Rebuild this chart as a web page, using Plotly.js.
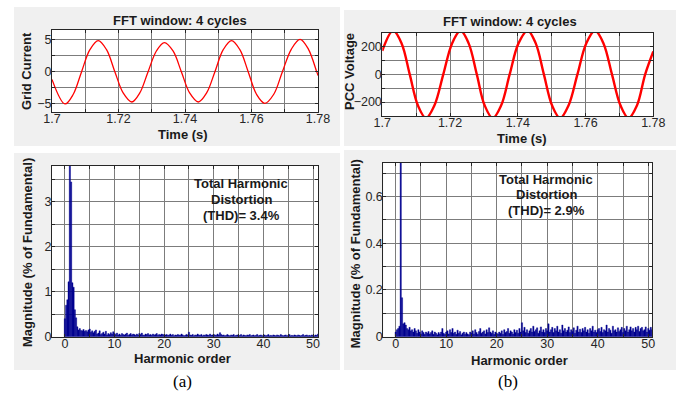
<!DOCTYPE html>
<html>
<head>
<meta charset="utf-8">
<script src="https://cdn.plot.ly/plotly-3.0.1.min.js"></script>
<style>html,body{margin:0;padding:0;background:#fff;}#chart{width:687px;height:397px;}</style>
</head>
<body>
<div id="chart"></div>
<script>
// ---- Data ----
// (a) grid current, time (s) and value at extrema / zero crossings / mid-points
const currentTime = [1.7000,1.7039,1.7064,1.7089,1.7114,1.7139,1.7164,1.7189,1.7214,1.7240,1.7264,1.7289,1.7314,1.7338,1.7364,1.7389,1.7414,1.7440,1.7465,1.7490,1.7515,1.7540,1.7565,1.7590,1.7615,1.7640,1.7667,1.7693,1.7720,1.7746,1.7771,1.7796,1.7800];
const currentValue = [-1.2,-5.0,-3.5,0,3.4,4.8,3.4,0,-3.3,-4.7,-3.3,0,3.2,4.5,3.2,0,-3.3,-4.7,-3.3,0,3.4,4.8,3.4,0,-3.5,-4.9,-3.5,0,3.5,5.0,3.5,0,-0.6];

// (b) PCC voltage
const voltageTime = [1.7000,1.7032,1.7057,1.7081,1.7105,1.7129,1.7154,1.7180,1.7206,1.7231,1.7255,1.7279,1.7302,1.7326,1.7351,1.7376,1.7402,1.7429,1.7453,1.7477,1.7501,1.7525,1.7550,1.7576,1.7602,1.7628,1.7653,1.7678,1.7703,1.7727,1.7752,1.7776,1.7800];
const voltageValue = [170,315,223,0,-223,-315,-223,0,223,315,223,0,-223,-315,-223,0,223,315,223,0,-223,-315,-223,0,223,315,223,0,-223,-315,-223,0,165];

// Harmonic spectra, orders 0 .. 51 in steps of 0.25 (% of fundamental)
const harmonicStart = 0;
const harmonicStep = 0.25;
const spectrumA = [
 0.40,0.70,0.82,1.22,100,3.44,1.20,1.10,0.60,0.42,0.22,0.15,0.18,
 0.14,0.13,0.16,0.12,0.14,0.11,0.15,0.17,0.10,0.13,0.09,0.12,0.15,0.06,0.08,0.13,0.05,0.07,0.10,0.06,0.12,0.04,0.07,0.05,0.09,0.06,0.11,0.07,
 0.05,0.08,0.04,0.06,0.03,0.07,0.05,0.04,0.06,0.08,0.03,0.05,0.07,0.04,0.06,0.05,0.03,0.06,0.04,0.07,0.05,0.08,0.04,0.03,0.06,0.05,0.07,0.04,0.05,0.03,0.06,0.04,0.05,0.07,0.03,0.05,0.04,0.06,0.05,0.04,
 0.04,0.05,0.03,0.04,0.06,0.03,0.05,0.02,0.04,0.03,0.05,0.04,0.03,0.06,0.04,0.02,0.03,0.05,0.04,0.10,0.04,0.03,0.05,0.02,0.04,0.03,0.06,0.04,0.03,0.05,0.02,0.04,0.03,0.05,0.04,0.03,0.06,0.03,0.04,0.05,
 0.04,0.03,0.06,0.04,0.09,0.05,0.03,0.04,0.02,0.03,0.05,0.03,0.02,0.04,0.03,0.05,0.02,0.03,0.04,0.02,0.03,0.05,0.02,0.04,0.03,0.02,0.04,0.03,0.05,0.02,0.03,0.04,0.02,0.03,0.05,0.02,0.03,0.04,0.02,0.03,
 0.04,0.02,0.03,0.05,0.02,0.03,0.02,0.04,0.03,0.02,0.04,0.03,0.02,0.05,0.03,0.02,0.03,0.04,0.02,0.03,0.05,0.02,0.03,0.02,0.04,0.03,0.02,0.04,0.03,0.02,0.03,0.05,0.02,0.03,0.04,0.02,0.03,0.02,0.04,0.03,0.02,0.04,0.03,0.06
];
const spectrumB = [
 0.02,0.03,0.035,0.045,100,0.167,0.055,0.06,0.05,0.035,0.03,0.04,0.025,
 0.03,0.02,0.035,0.025,0.015,0.03,0.02,0.012,0.025,0.018,0.01,0.02,0.015,0.022,0.012,0.018,0.025,0.01,0.02,0.015,0.008,0.018,0.012,0.02,0.035,0.015,0.01,0.02,
 0.025,0.012,0.03,0.018,0.035,0.015,0.02,0.01,0.028,0.015,0.022,0.008,0.015,0.02,0.01,0.018,0.012,0.008,0.02,0.015,0.025,0.012,0.03,0.018,0.01,0.022,0.035,0.015,0.02,0.025,0.012,0.03,0.018,0.038,0.02,0.015,0.025,0.01,0.02,0.015,
 0.012,0.02,0.015,0.025,0.01,0.03,0.018,0.022,0.035,0.015,0.025,0.02,0.012,0.03,0.018,0.028,0.015,0.035,0.02,0.06,0.025,0.04,0.018,0.03,0.015,0.025,0.035,0.02,0.045,0.022,0.03,0.038,0.015,0.025,0.042,0.02,0.03,0.018,0.035,0.025,
 0.055,0.02,0.03,0.04,0.018,0.035,0.025,0.045,0.02,0.03,0.015,0.05,0.025,0.035,0.02,0.028,0.042,0.018,0.03,0.022,0.038,0.015,0.028,0.045,0.02,0.032,0.018,0.035,0.025,0.04,0.02,0.03,0.015,0.035,0.025,0.045,0.02,0.028,0.018,0.03,
 0.035,0.022,0.04,0.018,0.03,0.025,0.05,0.02,0.035,0.028,0.015,0.045,0.025,0.03,0.02,0.038,0.022,0.03,0.04,0.018,0.035,0.025,0.045,0.02,0.03,0.042,0.025,0.035,0.02,0.04,0.03,0.045,0.022,0.035,0.04,0.025,0.03,0.042,0.02,0.035,0.028,0.04,0.03,0.038
];

// Texts
const panelTitle = "FFT window: 4 cycles";
const thdA = ["Total Harmonic","Distortion","(THD)= 3.4%"];
const thdB = ["Total Harmonic","Distortion","(THD)= 2.9%"];

// ---- Layout helpers ----
const W = 687, H = 397;
const px = v => v / W;
const py = v => 1 - v / H;
const FONT = '"Liberation Sans", Arial, sans-serif';
const gridC = '#7c7c7c';
const lineC = '#262626';
const barC = '#00008f';

function axis(domain, range, dtick, minor, extra) {
  return Object.assign({
    domain: domain, range: range, dtick: dtick, tick0: 0,
    showgrid: true, gridcolor: gridC, gridwidth: 1,
    zeroline: false, showline: true, linecolor: lineC, linewidth: 1, mirror: 'allticks',
    ticks: 'inside', ticklen: 3, tickcolor: lineC,
    minor: {dtick: minor, tick0: 0, showgrid: true, gridcolor: gridC, gridwidth: 1, ticks: 'inside', ticklen: 3, tickcolor: lineC},
    tickfont: {family: FONT, size: 12.5, color: '#262626'},
    fixedrange: true
  }, extra || {});
}
const xs = {ticklabelstandoff: -5};
const ys = {ticklabelstandoff: -3};

const traces = [
  {x: currentTime, y: currentValue, type: 'scatter', mode: 'lines', line: {color: '#ff0000', width: 1.3, shape: 'spline', smoothing: 1}, xaxis: 'x', yaxis: 'y', hoverinfo: 'skip'},
  {x: voltageTime, y: voltageValue, type: 'scatter', mode: 'lines', line: {color: '#ff0000', width: 2.4, shape: 'spline', smoothing: 1}, xaxis: 'x2', yaxis: 'y2', hoverinfo: 'skip'},
  {y: spectrumA, x0: harmonicStart, dx: harmonicStep, type: 'bar', marker: {color: barC, line: {width: 0.4, color: barC}}, xaxis: 'x3', yaxis: 'y3', hoverinfo: 'skip'},
  {y: spectrumB, x0: harmonicStart, dx: harmonicStep, type: 'bar', marker: {color: barC, line: {width: 0.4, color: barC}}, xaxis: 'x4', yaxis: 'y4', hoverinfo: 'skip'}
];

const dTL = {x: [px(52), px(318)], y: [py(112), py(30)]};
const dTR = {x: [px(382.3), px(653.3)], y: [py(116), py(32.7)]};
const dBL = {x: [px(52), px(318)], y: [py(336.7), py(165.7)]};
const dBR = {x: [px(383.3), px(652.3)], y: [py(336.7), py(162.7)]};

function rect(x0, y0, x1, y1, color) {
  return {type: 'rect', xref: 'paper', yref: 'paper', x0: px(x0), x1: px(x1), y0: py(y1), y1: py(y0), fillcolor: color, line: {width: 0}, layer: 'below'};
}
function drect(d, color) {
  return {type: 'rect', xref: 'paper', yref: 'paper', x0: d.x[0], x1: d.x[1], y0: d.y[0], y1: d.y[1], fillcolor: color, line: {width: 0}, layer: 'below'};
}

function ann(text, x, y, opts) {
  return Object.assign({text: text, xref: 'paper', yref: 'paper', x: px(x), y: py(y), xanchor: 'center', yanchor: 'middle', showarrow: false,
    font: {family: FONT, size: 13, color: '#1a1a1a'}}, opts || {});
}

const annotations = [
  ann('<b>' + panelTitle + '</b>', 180, 21),
  ann('<b>' + panelTitle + '</b>', 510, 22),
  ann('<b>Grid Current</b>', 26.5, 71.5, {textangle: -90}),
  ann('<b>PCC Voltage</b>', 349, 72, {textangle: -90}),
  ann('<b>Time (s)</b>', 182.5, 134),
  ann('<b>Time (s)</b>', 521.5, 138),
  ann('<b>Magnitude (% of Fundamental)</b>', 27.5, 252.5, {textangle: -90}),
  ann('<b>Magnitude (% of Fundamental)</b>', 355.3, 254, {textangle: -90}),
  ann('<b>Harmonic order</b>', 182.5, 358.5),
  ann('<b>Harmonic order</b>', 519, 360),
  ann('<b>' + thdA[0] + '</b>', 241.2, 183.3),
  ann('<b>' + thdA[1] + '</b>', 241.2, 199),
  ann('<b>' + thdA[2] + '</b>', 241.2, 215),
  ann('<b>' + thdB[0] + '</b>', 546.2, 179),
  ann('<b>' + thdB[1] + '</b>', 546.2, 194.5),
  ann('<b>' + thdB[2] + '</b>', 546.2, 210),
  ann('(a)', 182, 381, {font: {family: '"Liberation Serif", "Times New Roman", serif', size: 17, color: '#000'}}),
  ann('(b)', 508, 381, {font: {family: '"Liberation Serif", "Times New Roman", serif', size: 17, color: '#000'}})
];

const layout = {
  width: W, height: H,
  margin: {l: 0, r: 0, t: 0, b: 0, pad: 0},
  paper_bgcolor: '#ffffff', plot_bgcolor: '#ffffff',
  showlegend: false, bargap: 0, hovermode: false,
  font: {family: FONT},
  xaxis: axis(dTL.x, [1.7, 1.78], 0.02, 0.01, Object.assign({anchor: 'y'}, xs)),
  yaxis: axis(dTL.y, [-6.25, 6.45], 5, 2.5, Object.assign({anchor: 'x'}, ys)),
  xaxis2: axis(dTR.x, [1.7, 1.78], 0.02, 0.01, Object.assign({anchor: 'y2'}, xs)),
  yaxis2: axis(dTR.y, [-300, 300], 200, 100, Object.assign({anchor: 'x2'}, ys)),
  xaxis3: axis(dBL.x, [-2.6, 51], 10, 5, Object.assign({anchor: 'y3'}, xs)),
  yaxis3: axis(dBL.y, [0, 3.8], 1, 0.5, Object.assign({anchor: 'x3'}, ys)),
  xaxis4: axis(dBR.x, [-2.45, 50.8], 10, 5, Object.assign({anchor: 'y4'}, xs)),
  yaxis4: axis(dBR.y, [0, 0.745], 0.2, 0.1, Object.assign({anchor: 'x4'}, ys)),
  shapes: [
    rect(14, 7, 340, 146, '#f0f0f0'),
    rect(344, 10, 676, 146, '#f0f0f0'),
    rect(14, 153, 340, 370, '#f0f0f0'),
    rect(344, 150, 676, 370, '#f0f0f0'),
    drect(dTL, '#ffffff'), drect(dTR, '#ffffff'), drect(dBL, '#ffffff'), drect(dBR, '#ffffff')
  ],
  annotations: annotations
};

Plotly.newPlot('chart', traces, layout, {staticPlot: true, displayModeBar: false});
</script>
</body>
</html>
